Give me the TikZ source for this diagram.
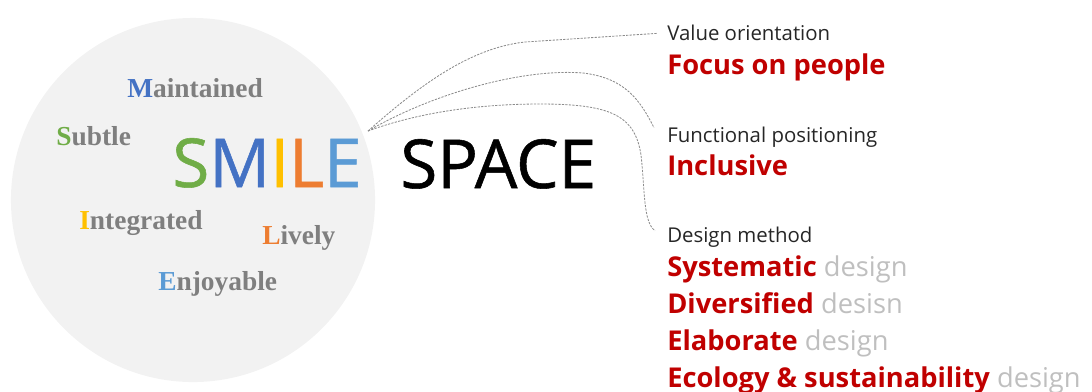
\documentclass[tikz,border=0pt]{standalone}
\usepackage{fontspec}
\setmainfont{Liberation Serif}
\setsansfont{Open Sans}
\newfontfamily\bigsans[FakeBold=0.8]{Open Sans}
\usepackage{tikz}
\usetikzlibrary{calc}
\definecolor{smilegreen}{HTML}{70AD47}
\definecolor{smileblue}{HTML}{4472C4}
\definecolor{smileyellow}{HTML}{FFC000}
\definecolor{smileorange}{HTML}{ED7D31}
\definecolor{smilesky}{HTML}{5B9BD5}
\definecolor{wordgray}{HTML}{7F7F7F}
\definecolor{circlefill}{HTML}{F2F2F2}
\definecolor{keyred}{HTML}{C00000}
\definecolor{designgray}{HTML}{BFBFBF}
\definecolor{headblack}{HTML}{262626}
\definecolor{dashgray}{HTML}{8C8C8C}

\begin{document}
\begin{tikzpicture}[x=0.025cm,y=-0.025cm,
  word/.style={anchor=base west,inner sep=0pt,text=wordgray,
    font=\fontsize{19.5}{20}\selectfont\bfseries},
  big/.style={anchor=base west,inner sep=0pt,font=\bigsans\fontsize{48}{48}\selectfont},
  head/.style={anchor=base west,inner sep=0pt,text=headblack,
    font=\sffamily\fontsize{14.5}{16}\selectfont},
  key/.style={anchor=base west,inner sep=0pt,text=keyred,
    font=\sffamily\fontsize{19.4}{20}\selectfont\bfseries},
  link/.style={draw=dashgray,line width=0.6pt,dash pattern=on 1.6pt off 0.9pt}]

  \useasboundingbox (0,0) rectangle (1092,391);
  \fill[circlefill] (193,200) circle[radius=4.55cm];

  % words of the circle
  \node[word] (m) at (127,97) {\textcolor{smileblue}{M}aintained};
  \node[word] (s) at (56,145) {\textcolor{smilegreen}{S}ubtle};
  \node[word] (i) at (79,229) {\textcolor{smileyellow}{I}ntegrated};
  \node[word] (l) at (262,244) {\textcolor{smileorange}{L}ively};
  \node[word] (e) at (158,290) {\textcolor{smilesky}{E}njoyable};

  \node[big] (smile) at (172,187)
    {\textcolor{smilegreen}{S}\textcolor{smileblue}{M}\textcolor{smileyellow}{I}\textcolor{smileorange}{L}\textcolor{smilesky}{E}};
  \node[big] (space) at (400,188) {SPACE};

  % right column
  \node[head] (vo) at (667,40) {Value orientation};
  \node[key] (people) at (667,74) {Focus on people};
  \node[head] (fp) at (667,142) {Functional positioning};
  \node[key] (incl) at (667,175) {Inclusive};
  \node[head] (dm) at (667,242) {Design method};
  \node[key] (k1) at (667,276) {Systematic \textcolor{designgray}{\mdseries design}};
  \node[key] (k2) at (667,313) {Diversified \textcolor{designgray}{\mdseries desisn}};
  \node[key] (k3) at (667,350) {Elaborate \textcolor{designgray}{\mdseries design}};
  \node[key] (k4) at (667,387) {Ecology \& sustainability \textcolor{designgray}{\mdseries design}};

  \coordinate (hub) at (368,131);
  \draw[link] (hub) .. controls (420,85) and (470,48) .. (525,42) -- ($(vo.west)+(-10,1)$);
  \draw[link] (hub) .. controls (430,95) and (520,68) .. (583,73)
    .. controls (625,78) and (640,100) .. ($(fp.west)+(-13,-9)$);
  \draw[link] (hub) .. controls (420,112) and (480,104) .. (540,104)
    .. controls (610,104) and (635,115) .. (641,155)
    .. controls (645,190) and (643,222) .. ($(dm.west)+(-12,-6)$);
\end{tikzpicture}
\end{document}
